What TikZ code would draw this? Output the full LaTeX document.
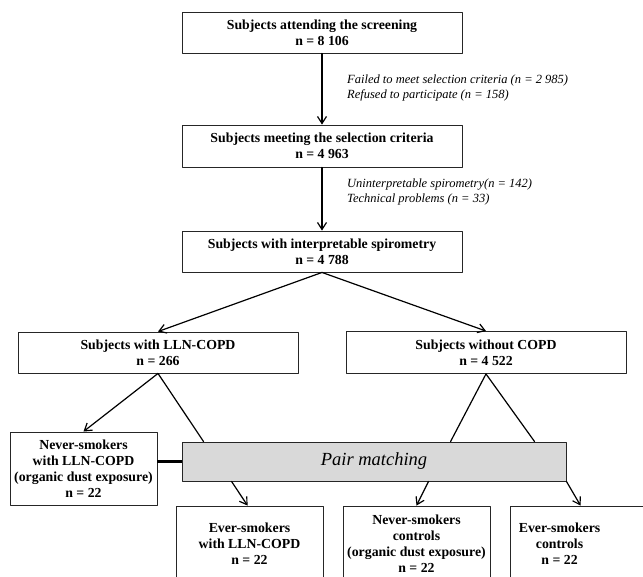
\documentclass[tikz,border=0pt]{standalone}
\usepackage{fontspec}
\setmainfont{Liberation Serif}
\usetikzlibrary{arrows.meta}

\begin{document}
\begin{tikzpicture}[line cap=round,line join=round,>={Straight Barb[length=7pt,width=9pt]},x=1pt,y=-1pt,
  box/.style={draw=black!85,line width=0.9pt,align=center,inner sep=0pt,font=\fontsize{13.8}{16}\selectfont\bfseries},
  boxtxt/.style={align=center,inner sep=0pt,font=\fontsize{13.8}{16}\selectfont\bfseries},
  note/.style={anchor=west,align=left,inner sep=0pt,font=\fontsize{12.5}{15}\selectfont\itshape},
  arr/.style={->,line width=1.2pt}]
\clip (0,0) rectangle (643,577);
%ylemmat laatikot
\node[box,minimum width=280,minimum height=41] (screen) at (322,32.5) {Subjects attending the screening\\n = 8 106};
\node[box,minimum width=280,minimum height=42] (select) at (322,146) {Subjects meeting the selection criteria\\n = 4 963};
\node[box,minimum width=280,minimum height=41] (spiro) at (322,251.5) {Subjects with interpretable spirometry\\n = 4 788};
\node[box,minimum width=280,minimum height=41] (lln) at (158,352.5) {Subjects with LLN-COPD\\n = 266};
\node[box,minimum width=280,minimum height=42] (nocopd) at (486,352.5) {Subjects without COPD\\n = 4 522};
%poisjaadyt
\node[note] (drop1) at (347,87.5) {Failed to meet selection criteria (n = 2 985)\\Refused to participate (n = 158)};
\node[note] (drop2) at (347,191.5) {Uninterpretable spirometry(n = 142)\\Technical problems (n = 33)};
%alemmat laatikot
\node[box,minimum width=147,minimum height=73] (never) at (83.5,468.5) {Never-smokers\\with LLN-COPD\\(organic dust exposure)\\n = 22};
\node[box,fill=black!15,font=\fontsize{18.5}{22}\selectfont\itshape,minimum width=384,minimum height=39] (pair) at (374,461.5) {Pair matching};
\node[box,minimum width=147,minimum height=76] (everL) at (249.5,544) {Ever-smokers\\with LLN-COPD\\n = 22};
\node[box,minimum width=147,minimum height=76] (ctrlN) at (416.5,544) {Never-smokers\\controls\\(organic dust exposure)\\n = 22};
\node[box,minimum width=147,minimum height=76] (ctrlE) at (583.5,544) {};
\node[boxtxt] (ctrlEt) at ([xshift=50]ctrlE.west) {Ever-smokers\\controls\\n = 22};
%nuolet
\draw[arr] (screen) -- (select);
\draw[arr] (select) -- (spiro);
\draw[arr] (spiro.south) -- (lln.north);
\draw[arr] (spiro.south) -- (nocopd.north);
\draw[arr] (lln.south) -- (never.north);
\draw[line width=1.2pt] (lln.south) -- ([xshift=22]pair.north west);
\foreach \s in {269,353}
{
\draw[line width=1.2pt] (nocopd.south) -- ([xshift=\s]pair.north west);
}
\draw[arr] ([xshift=50]pair.south west) -- ([xshift=72]everL.north west);
\draw[arr] ([xshift=247]pair.south west) -- (ctrlN.north);
\draw[arr] (pair.south east) -- ([xshift=71]ctrlE.north west);
\draw[line width=2.2pt,line cap=butt] (never.east |- pair.west) -- (pair.west);
\end{tikzpicture}
\end{document}
